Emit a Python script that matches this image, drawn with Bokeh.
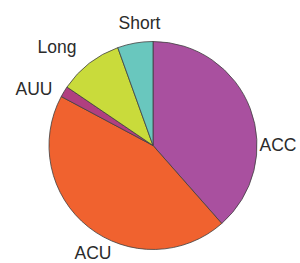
import math
from bokeh.plotting import figure
from bokeh.models import Range1d, ColumnDataSource
from bokeh.core.properties import value
from bokeh.embed import file_html
from bokeh.resources import INLINE

categories = ["ACC", "ACU", "AUU", "Long", "Short"]
shares = [38.5, 44.3, 1.7, 10.0, 5.5]
colors = ["#A9509F", "#F0622F", "#B03F80", "#C9DB3B", "#69C7BE"]

# label anchor positions (left / baseline), image pixel coords
label_x = [259, 74, 15, 37, 118]
label_y = [144, 252, 88, 46.5, 22.5]

W, H = 300, 263
p = figure(width=W, height=H, output_backend="svg", toolbar_location=None,
           x_range=Range1d(0, W), y_range=Range1d(0, H),
           min_border=0, outline_line_color=None)
p.axis.visible = False
p.grid.visible = False
p.background_fill_color = "white"
p.border_fill_color = "white"

total = sum(shares)
starts, ends = [], []
cum = 0.0
for s in shares:
    starts.append(math.pi / 2 - 2 * math.pi * cum / total)
    cum += s
    ends.append(math.pi / 2 - 2 * math.pi * cum / total)

cx, cy, r = 152.5, H - 145, 104
src = ColumnDataSource(dict(start=starts, end=ends, color=colors, cat=categories))
p.wedge(x=cx, y=cy, radius=r, start_angle="start", end_angle="end",
        direction="clock", fill_color="color", line_color="#404040",
        line_width=0.8, source=src)

lsrc = ColumnDataSource(dict(x=label_x, y=[H - v for v in label_y], t=categories))
p.text(x="x", y="y", text="t", source=lsrc, text_font=value("Liberation Sans"),
       text_font_size="17.5px", text_color="#2b2b2b", text_align="left",
       text_baseline="alphabetic")

open("out.html", "w").write(file_html(p, INLINE))
